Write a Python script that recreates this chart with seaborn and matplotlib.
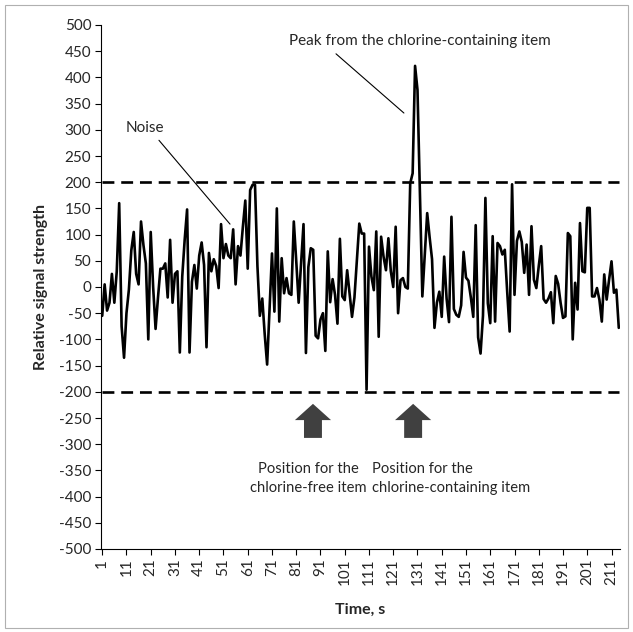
import matplotlib
matplotlib.use("Agg")
import matplotlib.pyplot as plt
import numpy as np
import pandas as pd
import seaborn as sns
from matplotlib.patches import FancyArrow, Rectangle

signal = [
    -55, 5, -45, -30, 25, -30, 30, 160, -75, -135,
    -50, -5, 70, 105, 25, 5, 125, 80, 45, -100,
    105, 0, -80, -20, 35, 35, 45, -20, 90, -30,
    25, 30, -125, 20, 90, 148, -125, 10, 42, -3,
    60, 85, 42, -115, 65, 30, 53, 40, -2, 120,
    55, 82, 60, 55, 110, 5, 78, 60, 115, 165,
    35, 185, 195, 195, 40, -55, -22, -90, -148, -40,
    64, -47, 150, -66, 55, -12, 17, -12, -15, 125,
    50, -30, 45, 120, -126, 38, 74, 71, -93, -98,
    -62, -50, -122, 68, -29, 15, -15, -70, 92, -18,
    -25, 32, -12, -57, -20, 52, 121, 102, 102, -196,
    77, 20, -6, 106, -95, 96, 58, 32, 93, 30,
    0, 115, -50, 13, 17, 0, -3, 198, 217, 422,
    376, 180, -18, 60, 141, 95, 53, -78, -30, -9,
    -57, 58, -22, -67, 134, -42, -53, -57, -35, 67,
    18, 12, -20, -57, 118, -96, -127, -55, 170, -31,
    -69, 97, -66, 84, 78, 62, 71, -10, -85, 196,
    -15, 88, 106, 86, 27, 81, -15, 116, 14, -2,
    40, 78, -23, -30, -22, -10, -69, 21, 6, -30,
    -59, -56, 103, 97, -100, 8, -43, 122, 30, 28,
    151, 151, -18, -18, -2, -24, -66, 24, -24, 14,
    49, -11, -5, -78,
]
time_s = list(range(1, len(signal) + 1))
upper_limit = [200] * len(signal)
lower_limit = [-200] * len(signal)
x_tick_values = list(range(1, 212, 10))
x_tick_labels = [str(v) for v in x_tick_values]
y_tick_values = list(range(-500, 501, 50))

sns.set_theme(style="white")
plt.rcParams["font.family"] = ["Lato", "DejaVu Sans"]

W, H = 633, 632
fig = plt.figure(figsize=(W / 100, H / 100), dpi=100)
ax_left, ax_right, ax_top, ax_bot = 101, 620, 25, 549
ax = fig.add_axes([ax_left / W, 1 - ax_bot / H, (ax_right - ax_left) / W, (ax_bot - ax_top) / H])

df = pd.DataFrame({"Time": time_s, "Signal": signal, "Upper": upper_limit, "Lower": lower_limit})
sns.lineplot(data=df, x="Time", y="Upper", ax=ax, color="black", lw=1.9,
             linestyle=(0, (4.5, 2.6)), errorbar=None)
sns.lineplot(data=df, x="Time", y="Lower", ax=ax, color="black", lw=1.9,
             linestyle=(0, (4.5, 2.6)), errorbar=None)
sns.lineplot(data=df, x="Time", y="Signal", ax=ax, color="black", lw=1.9, errorbar=None)

ax.set_xlim(0.5, len(signal) + 0.5)
ax.set_ylim(-500, 500)
ax.set_xticks(x_tick_values)
ax.set_xticklabels(x_tick_labels, rotation=90)
ax.set_yticks(y_tick_values)
ax.set_yticklabels([str(v) for v in y_tick_values])
for s in ["top", "right"]:
    ax.spines[s].set_visible(False)
for s in ["left", "bottom"]:
    ax.spines[s].set_color("black")
    ax.spines[s].set_linewidth(0.8)
ax.tick_params(axis="both", direction="out", length=4, width=0.8, color="black",
               labelsize=11, labelcolor="#262626", pad=3)
ax.tick_params(axis="both", which="both", bottom=True, left=True)

ax.set_xlabel("Time, s", fontweight="bold", fontsize=11.5, color="#262626")
ax.set_ylabel("Relative signal strength", fontweight="bold", fontsize=11.5, color="#262626")
ax.xaxis.set_label_coords(0.5, -0.103)
ax.yaxis.set_label_coords(-0.102, 0.5)

# Annotations
txt_kw = dict(fontsize=11, color="#262626")
ax.text(18.6, 303, "Noise", ha="center", va="center", **txt_kw)
ax.annotate("", xy=(53.7, 120), xytext=(24.4, 280),
            arrowprops=dict(arrowstyle="-", lw=0.8, color="black", shrinkA=0, shrinkB=0))
ax.text(132.0, 469, "Peak from the chlorine-containing item", ha="center", va="center", **txt_kw)
ax.annotate("", xy=(125.4, 332), xytext=(97.4, 445),
            arrowprops=dict(arrowstyle="-", lw=0.8, color="black", shrinkA=0, shrinkB=0))

for xc in (87.9, 129.2):
    ax.add_patch(FancyArrow(xc, -288, 0, 65, width=7.4, head_width=14.9, head_length=31,
                            length_includes_head=True, color="#404040", lw=0))

pos_kw = dict(fontsize=10.6, color="#262626")
ax.text(86.0, -366, "Position for the\nchlorine-free item", ha="center", va="center",
        linespacing=1.45, **pos_kw)
ax.text(112.2, -366, "Position for the\nchlorine-containing item", ha="left", va="center",
        linespacing=1.45, **pos_kw)

fig.patches.append(Rectangle((5 / W, 4 / H), (W - 10) / W, (H - 9) / H, transform=fig.transFigure,
                             fill=False, edgecolor="#b0b0b0", lw=0.8))

fig.savefig("out.png", dpi=100)
